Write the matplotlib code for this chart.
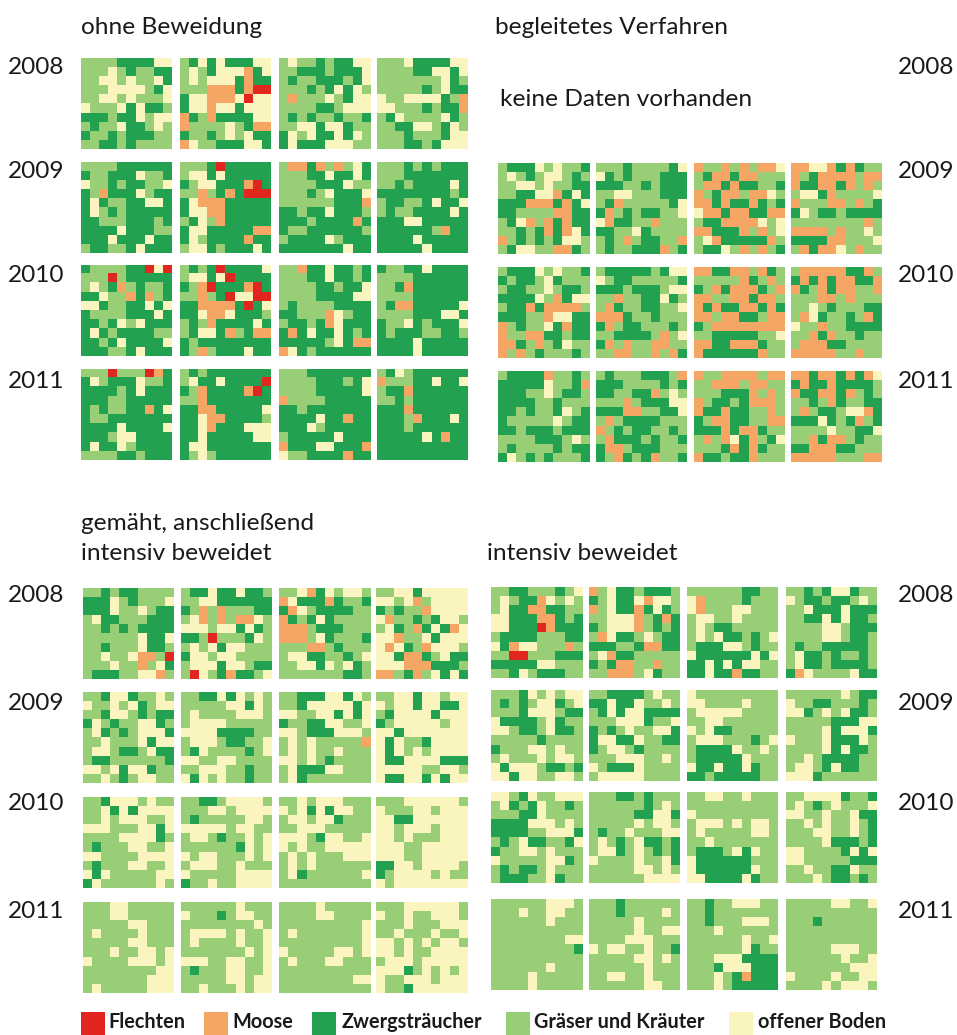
import matplotlib
matplotlib.use("Agg")
import matplotlib.pyplot as plt
import numpy as np
from matplotlib.colors import ListedColormap
from matplotlib.patches import Rectangle

W, H = 957, 1035

# one string per plot, rows top to bottom
# R Flechten, M Moose, Z Zwergstraeucher, G Graeser und Kraeuter, O offener Boden
ohne_2008 = [
    "GGGGZZZZOO GGGOGZGGZZ GGOOGOGGOZ GGGOOOOGZO GGOOGOGGGO OGGGOZOZZG ZZZGZZOGOO GZGGOZZGOG ZGGZGZZZGG GGZZGZGGGG",
    "GZOZOZZZOO GOGZOOOMZO GOGOOOZMZZ GGGMMMZMRR ZOOMMMOROO ZOOMOOZOOO MZGMZZZZOO MGGGGOGZMM ZGGZGOGOZZ MOGGZZZOOZ",
    "GOGGZGZZOO GGZZZGZZZO GZGGZZZGZO GGGZGZOZOG GMGGGOGZOO GGGGZZGOOO GZGZGGZGGZ GGOOZOOZGG ZOGOZZOZOG ZOZZZOOOGG",
    "GGGOZZZZOO GGGGZZOOZO GGGGGGGOZG GGGGGZGOZZ OGGOOOOZGM OOGGGZGZZM GZOGGGGOZG GGZZOOGZOG GGGZGGGZOO GGGZZGZOOO",
]
ohne_2009 = [
    "GGGGZZZZZZ ZGGZZZOGGZ OGGZGZZGGO ZGMZZZOGZZ ZOZGGZZOOZ ZOGZGZZZZZ ZZGGGZZZGZ ZZZZOZZZGG ZZZOZZZOZZ GZZGGZOZZZ",
    "GGGZRZZZZZ GOOZOZZZZZ ZGOOZZZMRZ GGMGZMZRRR ZOMMMZZZZZ ZOOMMZZZZZ GZOGMZZZZZ ZOOZZZZZMM ZOGZZZZMZZ GOOZGZZZOZ",
    "GMMZMGMGOZ GGGZZOZZOZ GGGGZZZOGG GGGZGOZZZO GGGGGGZZZM ZZGZZOZZZG ZZZGZZZZMZ ZGGZZZZZZG GZZZZOGZZZ ZZZZZZZOZZ",
    "GGGZGZGZZZ GGGZZZZZZZ GGZGZZZZOZ ZZZZZZZZGZ GZZGGZOZZO GZGGZZZZOZ ZZZOOZZZZZ ZZZZZZGMZZ ZZZZOZZZZZ ZZZZZOZZZZ",
]
ohne_2010 = [
    "ZGGGGZZROR GGGRGZZZZZ GOGZMGZGGZ ZZOGGMZMGZ OOZGGZZOZO ZGGGGZZZOZ ZZGZOGOZZZ ZOZGZZZZGG ZZGZOZZZZO ZZZGGZOZZZ",
    "GZGZRZZZZO GOOZORZZZZ ZGMRZZZMRZ GGMGZROORR ZZMMMMZRZO ZZOMMOZZZG GZGMZZZZOZ GZOOZMGZMM ZGZZZZZZZZ ZGMGZZZOZZ",
    "GGMZZOZZGZ GGGZZOZZGZ GGGGZZGZZO GGGGZZZZOO GZGGGGZZZZ ZZGGGMOGZZ GZZGZMOZZZ ZMZOZZOZGZ ZZZZZGOZMM MOZGZZZZZZ",
    "ZGGZZOZZZZ GGGGZZZZZZ GGZMZZZZZZ GGGGZZZZZZ GZMMZZZZZO GGGGZZZOOZ ZGGOZGZZZO ZGZZZGGZZG ZZZZOZZZZZ ZZZZOZZZZZ",
]
ohne_2011 = [
    "GGGRGGGRMZ ZOGZZZOGGZ ZZZZGZOZZZ ZZZGGZZZZZ ZGZGGZZMZO ZGGZZZZZZZ ZZZZOZZZZO ZZZGOOZZZZ ZOZZOGZZZZ GGGGZZGZZZ",
    "GZGZZZZZZZ GOZZOZZZZR ZGMZZZZMRZ GGMZZZZZZZ ZZMMZZZZZO ZZOMMZZZZG ZZOMZZZOOO ZZOZZZZZOO ZOOZZZZZZZ ZGOGZZZZZZ",
    "GGGZZZZZZZ GGGGZZZGZO GGGGZZZZZO MGGGGZZZZZ ZZGZZZZZZZ ZZZZOZZMZZ ZZZOGZZZZZ GZZZZZOZZZ MZZZOOZZZM OGGZZZZMZZ",
    "GZOGZZZZZZ MGGGZZOZZO GZZMZZZZZZ GGZGZZZZZZ ZZZMZZZZZZ ZZZGMZZZOZ ZZZGZZZZZZ ZZZZZOZMZZ ZZZZZZZZZZ ZZZZZZZZZZ",
]
begleitet_2009 = [
    "GZZZOGOGGZ GOGZGOOGZG GGOOGOGGZZ GGZZOOMZOZ ZZZMMMZMZO ZZGGGGMMZZ GZOMGMZMZZ GGZGZMZMOZ MGZGZGZOOG GZOOGGMMZG",
    "GGGZGGGGZO OZGZGGGZZZ ZZZGGZGZZZ GGOOGGGZZZ GZMGGGGGZO ZMGZGZZGGO OMZZGGMGGG ZZGGOZGGGG GZGMGZZGGM GZGGZZZMGZ",
    "MGGMGMGMMO GZMMZMMGGG GMMZMZZGGZ MGZMMGMMOG MMZMZZMZGZ OMMZMMZZMM GZZMMMMOGO MMZZZMGMGO GOMZZZZZMG GZZOGMGMGZ",
    "MMOOMZMZGG MGZMMMMGMM MZZMMZMGMG GOOZMGGGGO MGGGMMGMGZ ZOGZZGZZZZ GGGGGGGGMG MMMMGMGGOG ZZZZMMGGGO GMZMMOGMGG",
]
begleitet_2010 = [
    "GZZZOGOGGZ ZGZZGOZGGG GZZGGOGZZG ZZZZOGMZOO GZZMZMMMMG ZZZGGMOOZZ MGZGGOZMZZ MGGMMZZGZZ MMZGMGZOGG MGMGZGGGZG",
    "GZZZZZGZOO OGZZGGGGGZ ZZZGZZZGOO GGMGGZZOZG GMZGGZZGGO MMMZGGZGGG ZMGZZGGGZG GGZZZZGMGO ZMGMGGMMGG GGMMGGMGMZ",
    "MMZZMMGMZG GGGGGMZGMG ZGMZMMMZGM MMGGMMZMMG MZMZZMMZMZ MMGMMZZGMM ZGMMMMMMMM GGZZZZZGGO MMZZMMMZGG MZZZZZZMGG",
    "GMMMMMZZMG ZMZMZMMZZM MZGMZMMGGM GGGMMGMGGG GGOGZGGGZZ GMOZGGZGMZ OGGMGGZZZZ GGMZMGGZGG GMMMZZGGGG MMMMMGGMGG",
]
begleitet_2011 = [
    "GZZZZMGGZG ZZZZZOGGZM ZZZGGOGZZG ZZZZGGZGGG ZZGZGGZOGZ ZGGGGGOGZZ ZZGZZZGZZZ GGGGZZZGOG GZGGGGZGZZ ZOGZGZGGGZ",
    "GZGGGZZZGM ZZZGGGGZGZ ZZGGZZMGOG GGGMGZZZOO ZZZMMGGZZO GMGZZZZGGG MGZGZZGGZG GMZZZGZGGZ ZMMGZZZGGG ZGMZGZMGGZ",
    "MGGMMMMGMM GGMMMGMMGG GGGZZZMGMG MGZZGZMMMG MZZMZZGGMG ZGMMZZGGMM ZZZMZMMZGG GMGMOZMGZO GGGZMZMZGG MZZGZZMGGG",
    "MMZMMZMZMO ZMZZMZZZZG MZZMMZMGZG GGZGMZGGZZ GMGZZGOOMZ ZZZOZGZMGZ GGGGOGGZZO GGMZMMGZGG ZZMMMZZGGG MMMMMGGGMM",
]
gemaeht_2008 = [
    "GGZGZZGGGG ZZZOGZGGGO ZZZOGGOGZZ GOZZGGGZZZ GGZGZGZZZZ GGGGGGOZZO GGZGGGOZZG GGOGGOMMGR GGGOGGMGOZ GZZZGGOOMG",
    "GZZOZZOZZG GGOOZZZZZZ ZGMGMGGGZZ GOMGMGMMOG OOOGOOZOZG ZZGRGGGZOG GOGOZOOGGG ZOOGOOGGGG GOOOZOOGZZ GROGZMZZGO",
    "GGOMZOGOOG MOZZZMZGGZ ZMOGZZZZGG MZGZOZGGGG MMMGZZZGGG MMMGOZGGGZ GGGMMGZGGG GOOZZGGZGO GGOOZOGOZG GGGGGGGZZG",
    "GGOOZOOOOO OOGOMGOOOO ZGZGGMOOOO OMGGZGZOOG GOZGMZOZMO OOMGGOZOOO OMOZGMOOOG OOZMMZGOZZ OOOMMMZZZG MMGZMGOZOZ",
]
gemaeht_2009 = [
    "GGZOOZGGOG OGGOGOZGOO GGZOOGZGZZ ZOGZGGOOZG GOZGZGOOOZ GGOGGGOZOO GOOGZZGOZZ GZZGGGGGGZ OOGOZOOZGG GGOGZGOOGG",
    "GGZZOZOGOG GGGGGOOZOG GOGGGGOOOG GOOOOGGGGG OOOOZZZZGG GOOOGZZGGO GZOGGGGZGO OOGGOOGGGG GGOOOGGZGG OZOGOGGZGG",
    "GGZZZOOZOG GGZOOOOOZO OOGGOOZOZO ZGGZZOOGGO OOGZZZOOOG GOGOGGGGGM GOGOGGOGGG OOGOGZGGGG GOZZZOOGGG GOZGGGGGGG",
    "GGOOZOOGOO OGOOZOOZZO GZOOOOZOOO ZGOOOOOGOO OOZOOOOOOO OZOGGZOOOO OZOGOGOOOO OZZOOOOZZZ OOOOOGGOOG OZZOOZOZOO",
]
gemaeht_2010 = [
    "GGZOOOGOGG GGOZOZOOOO GGOGOOOGGO OOOGGGOOZO GGGGOOOOZG GZGGGOOGGO OOGGGGOOOO GZGGGOOGGO OZOGGGGGOO ZOGGGGGGOG",
    "GGZZGOOOOG GGGOOGOOOO GZGGGGGOOG OOOOOGOOGG GOOGZGGOGO GGGGGGZOGO OGOOGGGOGO GOOOGGOGGG OGGGGGOOOO ZGGOGGOOOO",
    "GGOGOOOGGG OGOZOZOOGG GOOGOOZGGG GGOOOGGGGG OOOGZOOGGO OGOGGOOOOO GOGOGGGOOO GOGOGGGGGG GOZGGGGGGO GGGGGGGGGG",
    "GGGOOOOOOG OGGGOOGOOO OOZZOOOOOO OOGOOOGOOO OOGOGGGOOO OOOGGOOOOO OOOGGOOOOO ZZOOGOOOOG ZGOOOOGOGG OGOOOOOOOO",
]
gemaeht_2011 = [
    "GGGOOGGGGG GGGOOGGGGG GGGGGOOGGG GOGGGGOGGG GGGGGOOGGG GGGOGGOOGO OGGGGOOOGO GGGGGGGGOO GGGGGGGOOO GOGGGGGOOO",
    "GGGGGGOGGG OGGGZGOOGG GGGGGGGGOG GOOOOGOGGO GOGGGGOGGO GGGGGGGOGO OOOGGOOGGO GZGGGOOGGO GGGGGOOGOO GGOGGGOGOO",
    "GGGGOGGGGG GGGGOOGGGG GGGGGGGGGO GOGGGGGGGO GGGGGGGGGO OGGGGGOOGO GOGGGOOGGG GGGGGGGGGG GGGGGGGGOO GGGGGGGGGG",
    "GGGOOOOOOG OGGOGGOOOG GGGOGGGOOO GGOGGGOGGO OOGOGOGOOG OOGOGGOOOO GOOOGOOOOO OOOZGOGOGO OGGOOOGOOO OGGZOOOOOO",
]
intensiv_2008 = [
    "GGZZGGGZGO GOGZZMOGOG GOZZMMZZGG OOZZZMMZGZ OOZZZRMZZZ GZZZZGGGZZ OZMOOGGGMG GGRRGGGZZZ ZZZZZOOGGG GGZOGZZZGG",
    "MGOZZGZZZG ZGOZZOMOOG MGOZZMZOZG GGOOOMGZMZ ZGOOOMGZGZ GMOZZGOGZZ ZZZGGZMMZZ GOMZZGGGGG ZGZMMGGMGG GGMMMGOZGG",
    "GGGGGGZZGG OMGGGGZGGG OMGGGOOGGG GOOGGOGGGG GOGZZGGGGG GOGOZZGZGO GZZZOOGZGG OZZZZZZOZO ZZOZOZOOGG ZZOZZMZZGG",
    "GGZGZOOZGG OGZZGZZGOG GGOZZZOZZZ GGZZOZOZZG GGGGOOGZZZ GGGGOOGZZG GZGGZZZZZG GOZZGZGGZG GOZZGZZZZG ZMOGGGGOZZ",
]
intensiv_2009 = [
    "GGGZOGOGOO GZGZGOOZGO GGGZOOOGZZ OZZZZGOZGG OOGZZGOZZG GGGGGZGGGG ZGGGOOGOGG GOGGGOGOOG OZOOOGZZGZ OOZOOGGOOG",
    "GGZZZZGOGG ZZOZZOGGOG GZOZOOZZZZ GGGOOOZGGO ZGZGOGGOOZ ZOOZZOGGZZ ZGOOGZGGGG GGGOOOGGOG OGZZZOGGGG GOOOOOGGGG",
    "OGGGGGGGGG OOGGGGOGGG GOOOOOGGGG GGOOGGGGGG OGOZZGGGGG GOOOGGGZGO GZZZZOGGOG GZZZZZOGGG OZZOZZOZGG ZZGZZZZZGG",
    "GGGGGGOGZZ OGGZZGGGZG OOZGOGOZZG GGGGGZZZOO GGGGOZOOOZ OGGGOZZZOG GGGGOZOZZG GGOGZZZZGG GOOGZOZZGG OOOZGGGGGG",
]
intensiv_2010 = [
    "OOGZOGGOOO GOZGZOGGZG GGGZZOGGGG ZZZZOOOGOG ZZZZGGOOOZ GZGOZZGGZO ZGGOOGOGGG OGGGGGOOZG GZGZZGOGGG GZZZGGOZGG",
    "GGGZZGZGGG GGGGGGZGOG GGGGGZZOOZ GGGGGOGOOG GZGGOGGGOO GOGZGOZZGZ GOOZGOGZGZ OGGGGOGGOZ GGGGGOOGOG GGGGGGOOOO",
    "GGOOGGOGGG GGGGGGGGGG OGGGGGGGGG GOOOGOGOOG GOGGGGGOOG GGOGGGGGGG GZZZGOZOGG OZZZZZZGGG OZZZZZZOGG OOZZZZOZGG",
    "GGOOOOZGGZ GOGZGOGGGO OOGGOGGOZZ GGOGOGGOGZ GGGOOGGOGZ GGGGOZZZGZ OOGGGGZOZO OOGGGGGZZZ GGOGGZZOGG GGGOGZZGZG",
]
intensiv_2011 = [
    "GGGGGGOOOG GGGOGGOOGG GGGGGGOGGG GGGGGGGGGG GGGGGGGGOO GGGGGGGGGZ GGGGGGGGGG GGGGGGOGGG GGGGOGGGGG GGGGOGGGGG",
    "GGGZGGGGGG GGGZGGGGOG GGGGGOGGGG GGGGGOGGOO GGGGOOOGGG OGOOGGOGGZ GGGGGOOGOG GGGGGGOGGG GGOOGGOGGG GGGGGGOOGG",
    "GGZGGOOOGG GGZGGGGGGG GGZGGGOOOG GGGOGGGGGG GGGGGGOGGO GGGGGGOZGG GGGOOOZZZZ GGGZOOOZZZ GGGOGZMZZZ GGGOGZZZZZ",
    "GGGGGOOGGO GGGGGGGGGG GGGZGGGGGG GGGGGGGGGG GGGGGGGGGG GGGGGOOOGG GGGGGGOGGO GGGGGGGOOO OGGGGOGGOO GGGGOGOOOG",
]

legend_names = ["Flechten", "Moose", "Zwergsträucher", "Gräser und Kräuter", "offener Boden"]
years = ["2008", "2009", "2010", "2011"]

codes = "RMZGO"
colors = ["#E1261F", "#F5A665", "#22A150", "#97CE76", "#FAF5BE"]
cmap = ListedColormap(colors)

fig = plt.figure(figsize=(W / 100, H / 100), dpi=100, facecolor="white")
plt.rcParams["font.family"] = "Lato"


def draw_plot(blocks, x0, y0, size=91):
    grid = np.array([[codes.index(c) for c in row] for row in blocks.split()])
    ax = fig.add_axes([x0 / W, 1 - (y0 + size) / H, size / W, size / H])
    ax.imshow(grid, cmap=cmap, vmin=0, vmax=4, aspect="auto", interpolation="nearest")
    ax.axis("off")


def label(x, y, s, size=17.6, **kw):
    fig.text(x / W, 1 - y / H, s, fontsize=size, va="center", ha="left", color="#1a1a1a", **kw)


# x of the four plots and y of the years, per block
blocks = [
    ([ohne_2008, ohne_2009, ohne_2010, ohne_2011], [58, 162, 265, 369], [81, 180, 279, 377]),
    ([begleitet_2009, begleitet_2010, begleitet_2011], [163, 267, 371], [498, 596, 694, 791]),
    ([gemaeht_2008, gemaeht_2009, gemaeht_2010, gemaeht_2011], [588, 692, 797, 902], [83, 181, 279, 376]),
    ([intensiv_2008, intensiv_2009, intensiv_2010, intensiv_2011], [587, 690, 792, 899], [491, 589, 687, 786]),
]
for rows, ys, xs in blocks:
    for plots, y in zip(rows, ys):
        for plot, x in zip(plots, xs):
            draw_plot(plot, x, y)

label(81, 27, "ohne Beweidung")
label(495, 27, "begleitetes Verfahren")
label(500, 99, "keine Daten vorhanden")
label(81, 524, "gemäht, anschließend")
label(81, 553, "intensiv beweidet")
label(487, 554, "intensiv beweidet")

for yr, y_up, y_low in zip(years, [67, 172, 276, 382], [595, 703, 804, 912]):
    label(8, y_up, yr)
    label(8, y_low, yr)
    label(898, y_up, yr)
    label(898, y_low, yr)

swatch_x = [81, 204, 312, 506, 729]
text_x = [108, 232, 342, 534, 758]
for col, name, sx, tx in zip(colors, legend_names, swatch_x, text_x):
    fig.add_artist(Rectangle((sx / W, 0), 24 / W, 23 / H, transform=fig.transFigure,
                             facecolor=col, edgecolor="none"))
    label(tx, 1022, name, size=14.3, weight="bold")

fig.savefig("out.png", dpi=100)
plt.close(fig)
